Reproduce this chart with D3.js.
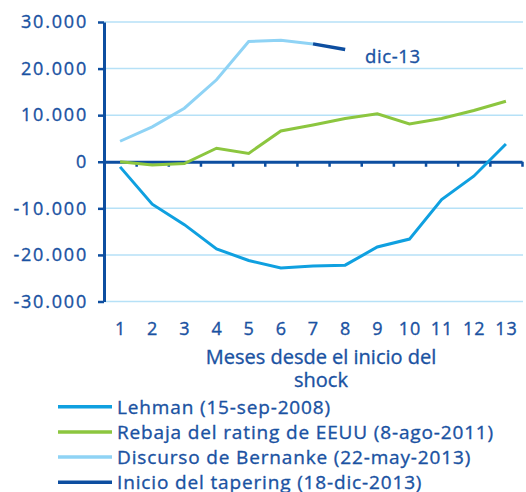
<!DOCTYPE html>
<html><head><meta charset="utf-8">
<script src="https://cdn.jsdelivr.net/npm/d3@7"></script>
<style>
html,body{margin:0;padding:0;background:#fff;}
svg{display:block;}
text{font-family:"Open Sans",sans-serif;fill:#1a52a2;stroke:#1a52a2;stroke-width:0.35px;}
</style></head><body>
<svg id="c" width="526" height="492"></svg>
<script>
const months = [1,2,3,4,5,6,7,8,9,10,11,12,13];
const lehman = [-1100,-9100,-13500,-18700,-21200,-22800,-22400,-22200,-18300,-16600,-8100,-3100,3800];
const rebaja = [0,-700,-400,2900,1800,6600,7900,9300,10300,8100,9300,11000,13000];
const bernanke = [4400,7500,11500,17600,25800,26100,25300,null,null,null,null,null,null];
const tapering = [null,null,null,null,null,null,25300,24100,null,null,null,null,null];
const seriesNames = ["Lehman (15-sep-2008)","Rebaja del rating de EEUU (8-ago-2011)","Discurso de Bernanke (22-may-2013)","Inicio del tapering (18-dic-2013)"];
const seriesColors = ["#0fa0e0","#8cc63f","#8fd3f5","#0d4ea0"];
const yTicks = [-30000,-20000,-10000,0,10000,20000,30000];
const xTitle = ["Meses desde el inicio del","shock"];
const annotation = "dic-13";

const svg = d3.select("#c");
const axisColor = "#0d4ea0";
const textColor = "#1a52a2";
const x = d3.scaleLinear().domain([0.5,13.5]).range([104,522]);
const y = d3.scaleLinear().domain([-30000,30000]).range([301.5,22]);
const loc = d3.formatLocale({decimal:",",thousands:".",grouping:[3],currency:["",""],minus:"-"});
const fmt = loc.format(",");

// gridlines
svg.append("g").selectAll("line").data(yTicks.filter(d=>d!==0)).join("line")
  .attr("x1",104).attr("x2",523).attr("y1",d=>y(d)).attr("y2",d=>y(d))
  .attr("stroke","#b6e1f7").attr("stroke-width",1.5);

// y axis
const ya = svg.append("g").attr("transform","translate(104,0)")
  .call(d3.axisLeft(y).tickValues(yTicks).tickFormat(fmt).tickSize(6).tickSizeOuter(0).tickPadding(10));
ya.select(".domain").attr("stroke",axisColor).attr("stroke-width",3);
ya.selectAll(".tick line").attr("stroke",axisColor).attr("stroke-width",2.5);
ya.selectAll(".tick text").style("font-size","18px").style("letter-spacing","1.8px").attr("fill",textColor);

// x axis ticks at zero line
const xa = svg.append("g").attr("transform",`translate(0,${y(0)})`)
  .call(d3.axisBottom(x).tickValues(d3.range(1.5,14,1)).tickFormat("").tickSize(5).tickSizeOuter(0));
xa.select(".domain").attr("stroke",axisColor).attr("stroke-width",3);
xa.selectAll(".tick line").attr("stroke",axisColor).attr("stroke-width",2.5);

// x labels
const xl = svg.append("g").attr("transform","translate(0,322)")
  .call(d3.axisBottom(x).tickValues(months).tickSize(0).tickPadding(0));
xl.select(".domain").remove();
xl.selectAll(".tick text").style("font-size","18px").style("letter-spacing","1px").attr("fill",textColor);

// x title
svg.append("text").attr("x",321).attr("y",364).attr("text-anchor","middle").style("font-size","20px").text(xTitle[0]);
svg.append("text").attr("x",321).attr("y",387).attr("text-anchor","middle").style("font-size","20px").text(xTitle[1]);

// lines
const all = [lehman,rebaja,bernanke,tapering];
const line = d3.line().defined(d=>d[1]!==null).x(d=>x(d[0])).y(d=>y(d[1]));
all.forEach((s,i)=>{
  svg.append("path").datum(months.map((m,j)=>[m,s[j]]))
    .attr("d",line).attr("fill","none").attr("stroke",seriesColors[i]).attr("stroke-width",i===3?3.5:3);
});

// annotation
svg.append("text").attr("x",365).attr("y",63).style("font-size","18.5px").style("letter-spacing","0.6px").text(annotation);

// legend
const lg = svg.append("g");
seriesNames.forEach((n,i)=>{
  const yy = 406.7 + i*25.2;
  lg.append("line").attr("x1",58).attr("x2",112).attr("y1",yy).attr("y2",yy).attr("stroke",seriesColors[i]).attr("stroke-width",3.5);
  lg.append("text").attr("x",117).attr("y",yy+6.8).style("font-size","19px").style("letter-spacing","0.85px").text(n);
});
</script></body></html>
